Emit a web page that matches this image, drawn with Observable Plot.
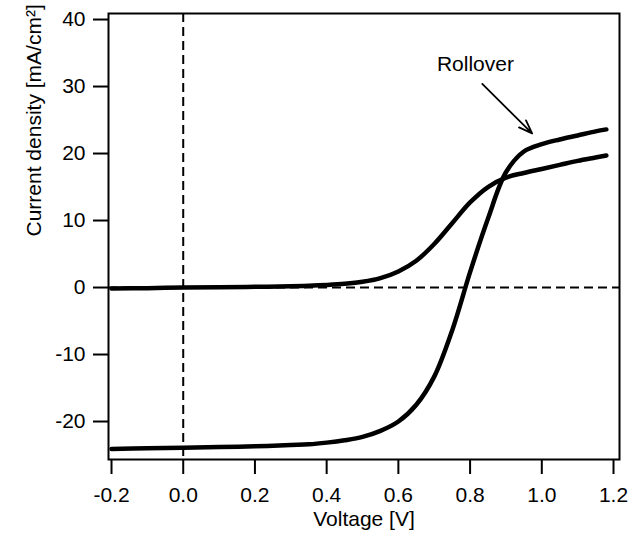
<!DOCTYPE html>
<html>
<head>
<meta charset="utf-8">
<script src="https://cdn.jsdelivr.net/npm/d3@7"></script>
<script src="https://cdn.jsdelivr.net/npm/@observablehq/plot@0.6"></script>
<style>
  html, body { margin: 0; padding: 0; background: #fff; }
</style>
</head>
<body>
<div id="chart"></div>
<script>
// Bias voltage samples (V)
const voltage = [-0.2, -0.1, 0.0, 0.1, 0.2, 0.3, 0.35, 0.4, 0.45, 0.5, 0.55, 0.6, 0.65, 0.7, 0.75, 0.8, 0.85, 0.9, 0.95, 1.0, 1.05, 1.1, 1.15, 1.18];
// Current density in the dark (mA/cm^2)
const darkCurrent = [-0.15, -0.1, 0.0, 0.05, 0.1, 0.2, 0.27, 0.38, 0.55, 0.85, 1.4, 2.4, 4.0, 6.5, 9.6, 12.7, 15.0, 16.4, 17.1, 17.7, 18.3, 18.9, 19.4, 19.7];
// Current density under illumination (mA/cm^2)
const lightCurrent = [-24.1, -24.0, -23.9, -23.8, -23.7, -23.5, -23.4, -23.15, -22.8, -22.3, -21.4, -20.0, -17.5, -13.3, -6.4, 2.3, 10.3, 17.2, 20.3, 21.4, 22.1, 22.7, 23.3, 23.6];

const xTicks = [-0.2, 0.0, 0.2, 0.4, 0.6, 0.8, 1.0, 1.2];
const yTicks = [-20, -10, 0, 10, 20, 30, 40];

// "Rollover" annotation (data coordinates)
const noteText = "Rollover";
const notePos = [0.815, 33.3];
const arrowFrom = [0.834, 30.4];
const arrowTo = [0.973, 23.0];

const dark = voltage.map((v, i) => ({v, j: darkCurrent[i]}));
const light = voltage.map((v, i) => ({v, j: lightCurrent[i]}));

const chart = Plot.plot({
  width: 630,
  height: 539,
  marginLeft: 108,
  marginRight: 11,
  marginTop: 13,
  marginBottom: 80,
  style: {fontFamily: "'Liberation Sans', Arial, sans-serif", fontSize: "20px", background: "#fff", color: "#000"},
  x: {domain: [-0.2084, 1.2167]},
  y: {domain: [-25.67, 40.9]},
  marks: [
    Plot.ruleX([0], {stroke: "#000", strokeWidth: 2, strokeDasharray: "9,5"}),
    Plot.ruleY([0], {stroke: "#000", strokeWidth: 2, strokeDasharray: "9,5"}),
    Plot.line(dark, {x: "v", y: "j", stroke: "#000", strokeWidth: 4.5, curve: "catmull-rom", strokeLinecap: "round"}),
    Plot.line(light, {x: "v", y: "j", stroke: "#000", strokeWidth: 4.5, curve: "catmull-rom", strokeLinecap: "round"}),
    Plot.arrow([{x1: arrowFrom[0], y1: arrowFrom[1], x2: arrowTo[0], y2: arrowTo[1]}], {
      x1: "x1", y1: "y1", x2: "x2", y2: "y2", stroke: "#000", strokeWidth: 1.8, headLength: 12, headAngle: 40
    }),
    Plot.text([noteText], {x: notePos[0], y: notePos[1], text: d => d, fontSize: 21, fill: "#000"}),
    Plot.frame({stroke: "#000", strokeWidth: 2}),
    Plot.axisX(xTicks, {anchor: "bottom", tickSize: 15, tickPadding: 13, strokeWidth: 2, tickFormat: d => d.toFixed(1), label: null, fontSize: 21}),
    Plot.axisY(yTicks, {anchor: "left", tickSize: 15, tickPadding: 8, strokeWidth: 2, tickFormat: d => String(d), label: null, fontSize: 21}),
    Plot.text(["Voltage [V]"], {frameAnchor: "bottom", dy: 66, text: d => d, fontSize: 21, fill: "#000"}),
    Plot.text(["Current density [mA/cm²]"], {frameAnchor: "left", dx: -74, rotate: -90, text: d => d, fontSize: 21, fill: "#000"})
  ]
});

document.getElementById("chart").append(chart);
</script>
</body>
</html>
